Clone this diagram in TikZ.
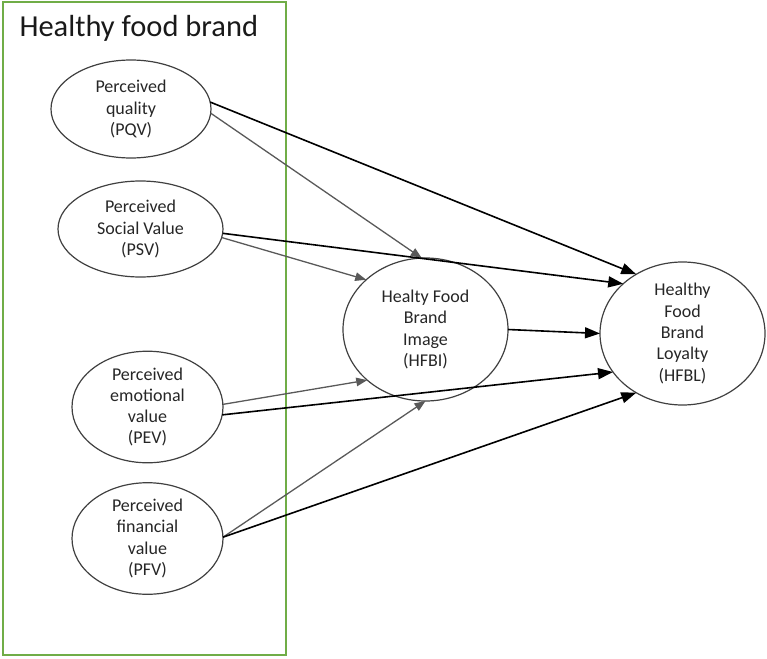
\documentclass[tikz,border=0pt]{standalone}
\usepackage{fontspec}
\setmainfont{Carlito}
\usetikzlibrary{shapes.geometric,arrows.meta}
\definecolor{boxgreen}{RGB}{112,173,71}
\tikzset{
  construct/.style={ellipse,draw=black!75,line width=1.2pt,inner sep=0pt,outer sep=0pt,
    align=center,text=black!85,font=\fontsize{18}{21.3}\selectfont},
  blackpath/.style={line width=1.6pt,-{Triangle[length=15pt,width=11pt]}},
  graypath/.style={draw=black!65,line width=1.3pt,-{Triangle[length=11pt,width=8.5pt]}}
}
\begin{document}
\begin{tikzpicture}[x=1pt,y=-1pt]
  \useasboundingbox (0,0) rectangle (767,658);
  \draw[boxgreen,line width=1.5pt] (3,2) rectangle (286,655);
  \node[anchor=base west,text=black!90,font=\fontsize{30.5}{36}\selectfont] (title) at (16,37) {Healthy food brand};

  \node[construct,minimum width=160pt,minimum height=98pt] (pqv) at (131,109) {Perceived\\quality\\(PQV)};
  \node[construct,minimum width=165pt,minimum height=96pt] (psv) at (140.5,229) {Perceived\\Social Value\\(PSV)};
  \node[construct,minimum width=151pt,minimum height=100pt] (pev) at (147.5,407) {Perceived\\emotional\\value\\(PEV)};
  \node[construct,minimum width=151pt,minimum height=99pt] (pfv) at (147.5,538.5) {Perceived\\financial\\value\\(PFV)};
  \node[construct,minimum width=165pt,minimum height=143pt] (hfbi) at (425.5,329.5) {Healty Food\\Brand\\Image\\(HFBI)};
  \node[construct,minimum width=165pt,minimum height=143pt] (hfbl) at (682.5,333.5) {Healthy\\Food\\Brand\\Loyalty\\(HFBL)};

  \draw[graypath] (pqv.-3) -- (hfbi.93);
  \draw[graypath] (psv.-6) -- (hfbi.140);
  \draw[graypath] (pev.2) -- (hfbi.221);
  \draw[graypath] (pfv.1) -- (hfbi.270);

  \draw[blackpath] (pqv.5) -- (hfbl.128);
  \draw[blackpath] (psv.-3) -- (hfbl.140.5);
  \draw[blackpath] (hfbi.0) -- (hfbl.180);
  \draw[blackpath] (pev.-6) -- (hfbl.209);
  \draw[blackpath] (pfv.1) -- (hfbl.232);
\end{tikzpicture}
\end{document}
